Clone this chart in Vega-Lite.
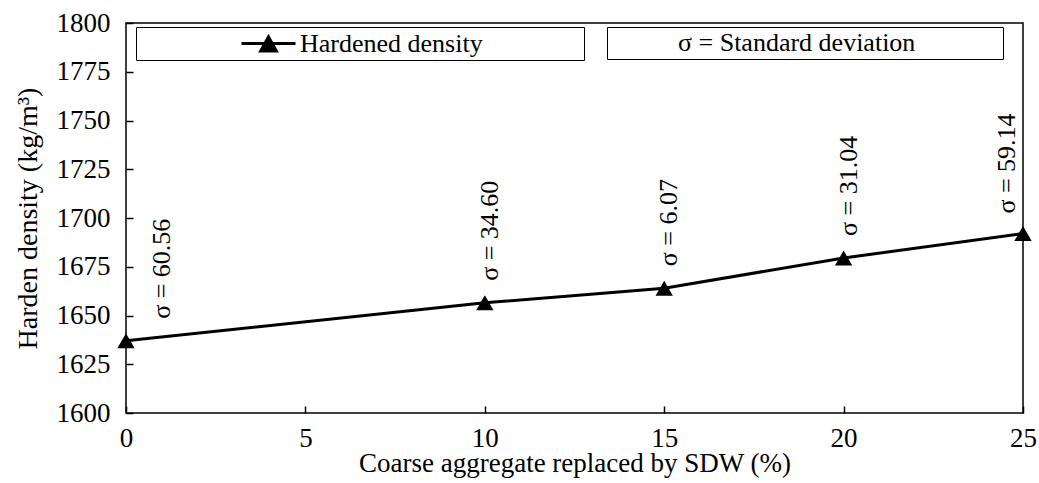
{
  "$schema": "https://vega.github.io/schema/vega-lite/v6.json",
  "width": 897,
  "height": 390,
  "autosize": {"type": "none"},
  "padding": {"left": 126, "top": 23, "right": 16, "bottom": 70},
  "background": "white",
  "config": {
    "font": "Liberation Serif",
    "view": {"stroke": "black", "strokeWidth": 1.5}
  },
  "data": {
    "values": [
      {"replacement": 0, "density": 1637, "label": "σ = 60.56"},
      {"replacement": 10, "density": 1656.5, "label": "σ = 34.60"},
      {"replacement": 15, "density": 1664, "label": "σ = 6.07"},
      {"replacement": 20, "density": 1679.5, "label": "σ = 31.04"},
      {"replacement": 25, "density": 1692, "label": "σ = 59.14"}
    ]
  },
  "encoding": {
    "x": {
      "field": "replacement",
      "type": "quantitative",
      "scale": {"domain": [0, 25], "nice": false},
      "axis": {
        "values": [0, 5, 10, 15, 20, 25],
        "format": "d",
        "title": "Coarse aggregate replaced by SDW (%)",
        "grid": false,
        "domain": false,
        "offset": -7,
        "tickColor": "black",
        "tickWidth": 1.5,
        "tickSize": 7,
        "labelColor": "black",
        "labelFontSize": 27,
        "labelFont": "Liberation Serif",
        "titleFont": "Liberation Serif",
        "titleFontSize": 27,
        "titleFontWeight": "normal",
        "titleColor": "black",
        "labelFlush": false,
        "labelOverlap": false,
        "labelPadding": 12,
        "titlePadding": -1
      }
    },
    "y": {
      "field": "density",
      "type": "quantitative",
      "scale": {"domain": [1600, 1800], "nice": false, "zero": false},
      "axis": {
        "values": [1600, 1625, 1650, 1675, 1700, 1725, 1750, 1775, 1800],
        "format": "d",
        "title": "Harden density (kg/m³)",
        "grid": false,
        "domain": false,
        "offset": -7,
        "tickColor": "black",
        "tickWidth": 1.5,
        "tickSize": 7,
        "labelColor": "black",
        "labelFontSize": 27,
        "labelFont": "Liberation Serif",
        "titleFont": "Liberation Serif",
        "titleFontSize": 28,
        "titleFontWeight": "normal",
        "titleColor": "black",
        "labelFlush": false,
        "labelOverlap": false,
        "labelPadding": 16,
        "titlePadding": 14
      }
    }
  },
  "layer": [
    {"mark": {"type": "line", "color": "black", "strokeWidth": 3}},
    {
      "mark": {"type": "point", "shape": "triangle-up", "filled": true, "size": 300, "opacity": 1},
      "encoding": {
        "color": {
          "datum": "Hardened density",
          "type": "nominal",
          "scale": {"range": ["black"]},
          "legend": {
            "orient": "none",
            "legendX": 10,
            "legendY": 4,
            "title": null,
            "padding": 3,
            "strokeColor": "black",
            "fillColor": "white",
            "symbolType": "M-2.25,0L2.25,0M-0.65,0.62L0.65,0.62L0,-0.55Z",
            "symbolSize": 576,
            "symbolStrokeWidth": 3,
            "symbolFillColor": "black",
            "symbolStrokeColor": "black",
            "symbolOffset": 116,
            "labelOffset": 18,
            "labelFontSize": 26,
            "labelFont": "Liberation Serif",
            "labelColor": "black",
            "labelLimit": 1000,
            "labelExpr": "datum.label + '\u00a0\u00a0\u00a0\u00a0\u00a0\u00a0\u00a0\u00a0\u00a0\u00a0\u00a0\u00a0\u00a0\u00a0\u00a0\u200b'"
          }
        }
      }
    },
    {
      "encoding": {
        "color": {
          "datum": "σ = Standard deviation",
          "type": "nominal",
          "scale": {"range": ["black"]},
          "legend": {
            "orient": "none",
            "legendX": 481,
            "legendY": 4,
            "title": null,
            "padding": 3,
            "strokeColor": "black",
            "fillColor": "white",
            "symbolSize": 1,
            "symbolOpacity": 0,
            "symbolStrokeWidth": 0,
            "symbolOffset": 38,
            "labelOffset": 4,
            "labelFontSize": 26,
            "labelFont": "Liberation Serif",
            "labelColor": "black",
            "labelLimit": 1000,
            "labelExpr": "datum.label + '\u00a0\u00a0\u00a0\u00a0\u00a0\u00a0\u00a0\u00a0\u00a0\u00a0\u00a0\u00a0\u00a0\u200b'"
          }
        }
      },
      "layer": [
        {
          "transform": [{"filter": "datum.replacement == 0"}],
          "mark": {"type": "text", "angle": 270, "align": "left", "baseline": "middle", "dx": 22, "dy": 36, "fontSize": 26, "font": "Liberation Serif"},
          "encoding": {"text": {"field": "label"}}
        },
        {
          "transform": [{"filter": "datum.replacement > 0 && datum.replacement < 25"}],
          "mark": {"type": "text", "angle": 270, "align": "left", "baseline": "middle", "dx": 22, "dy": 5, "fontSize": 26, "font": "Liberation Serif"},
          "encoding": {"text": {"field": "label"}}
        },
        {
          "transform": [{"filter": "datum.replacement == 25"}],
          "mark": {"type": "text", "angle": 270, "align": "left", "baseline": "middle", "dx": 20, "dy": -16, "fontSize": 26, "font": "Liberation Serif"},
          "encoding": {"text": {"field": "label"}}
        }
      ]
    }
  ],
  "resolve": {"scale": {"color": "independent"}}
}
